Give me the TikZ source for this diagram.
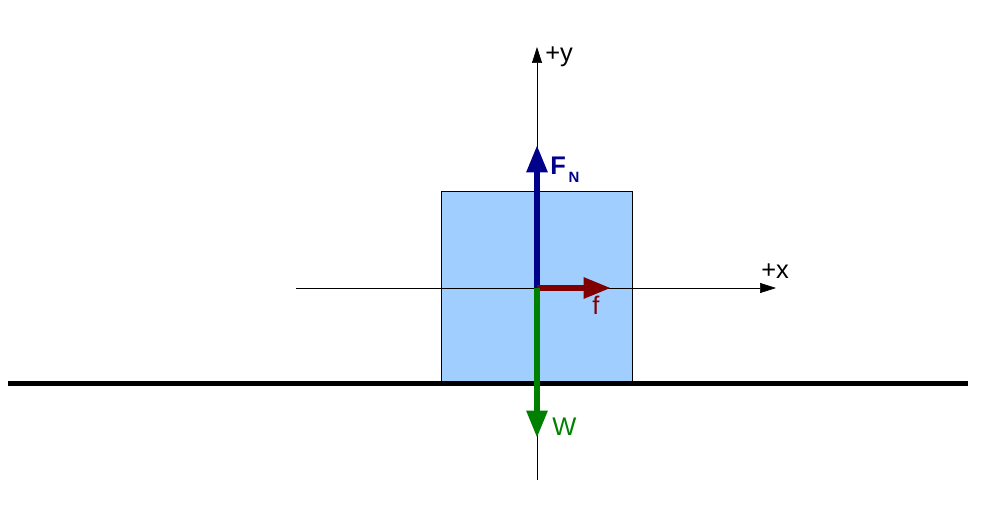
\documentclass[tikz,border=0pt]{standalone}
\usepackage{fontspec}
\setmainfont{Liberation Sans}
\usetikzlibrary{arrows.meta,positioning}
\definecolor{blockblue}{RGB}{160,207,255}
\definecolor{normalblue}{RGB}{0,0,139}
\definecolor{frictionred}{RGB}{128,0,0}
\definecolor{weightgreen}{RGB}{0,128,0}
\begin{document}
\begin{tikzpicture}[x=0.02cm, y=-0.02cm, font=\fontsize{14.5}{17}\selectfont,
	axis/.style={-{Triangle[length=0.32cm, width=0.2cm]}},
	force/.style={line width=0.12cm, -{Triangle[length=0.55cm, width=0.4cm]}},
	label/.style={anchor=base west, inner sep=0pt}]
				\useasboundingbox (0,0) rectangle (987,504);
				\coordinate (o) at (537,288);
				\node[rectangle, draw, fill=blockblue, minimum width=3.82cm, minimum height=3.82cm, inner sep=0pt, anchor=south west] (block) at (441,383) {};
				
				% ground
				\coordinate (gl) at (8,383);
				\coordinate (gr) at (968,383);
				\draw[line width=0.1cm] (gl) -- (gr);
				
				% axes
				\coordinate (xs) at (296,288);
				\coordinate (xe) at (776,288);
				\coordinate (ys) at (537,480);
				\coordinate (ye) at (537,47);
				\draw[axis] (xs) -- (xe);
				\draw[axis] (ys) -- (ye);
				\node[label] (xlab) at (761,278) {+x};
				\node[label] (ylab) at (545,61) {+y};
				
				% forces
				\coordinate (fn) at (537,145);
				\coordinate (ff) at (611,288);
				\coordinate (fw) at (537,438);
				\draw[force, normalblue] (o) -- (fn);
				\draw[force, frictionred] (o) -- (ff);
				\draw[force, weightgreen] (o) -- (fw);
				\node[label, text=normalblue] (fnlab) at (550,174) {\textbf{F}\kern1.5pt\raisebox{-5pt}{\fontsize{8.5}{10}\selectfont\textbf{N}}};
				\node[label, text=frictionred] (flab) at (592,314) {f};
				\node[label, text=weightgreen] (wlab) at (552,435) {W};
\end{tikzpicture}
\end{document}
